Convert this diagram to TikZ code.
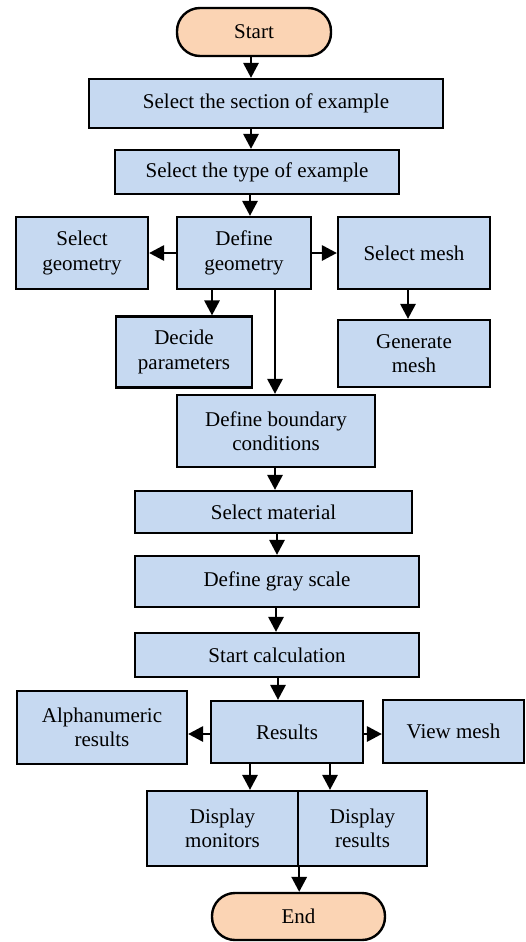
\documentclass[tikz,border=0pt]{standalone}
\usepackage{fontspec}
\setmainfont{Liberation Serif}
\usetikzlibrary{arrows.meta,calc}
\definecolor{boxblue}{HTML}{C6D9F1}
\definecolor{peach}{HTML}{FBD4B4}
\tikzset{
  box/.style={draw=black, line width=2.4pt, fill=boxblue, inner sep=0pt, align=center,
    font=\fontsize{21}{24.5}\selectfont},
  term/.style={box, fill=peach, rounded corners=23pt},
  arr/.style={line width=1.8pt, -{Triangle[width=15.5pt,length=15pt]}},
}
\begin{document}
\begin{tikzpicture}[x=1pt,y=-1pt]
\useasboundingbox (0,0) rectangle (525,942);
\node[term, minimum width=154pt, minimum height=48pt] (start) at (254,32) {Start};
\node[box, minimum width=354pt, minimum height=49pt] (s1) at (266,103.5) {Select the section of example};
\node[box, minimum width=284pt, minimum height=44pt] (s2) at (257,172) {Select the type of example};
\node[box, minimum width=132pt, minimum height=72pt] (sg) at (82,253) {Select\\geometry};
\node[box, minimum width=134pt, minimum height=72pt] (dg) at (244,253) {Define\\geometry};
\node[box, minimum width=152pt, minimum height=72pt] (sm) at (414,253) {Select mesh};
\node[box, minimum width=136pt, minimum height=71pt] (dp) at (184,352) {Decide\\parameters};
\node[box, minimum width=152pt, minimum height=67pt] (gm) at (414,353.5) {Generate\\mesh};
\node[box, minimum width=198pt, minimum height=72pt] (bc) at (276,431) {Define boundary\\conditions};
\node[box, minimum width=277pt, minimum height=42pt] (mat) at (273.5,512) {Select material};
\node[box, minimum width=284pt, minimum height=51pt] (gs) at (277,581.5) {Define gray scale};
\node[box, minimum width=284pt, minimum height=44pt] (sc) at (277,655) {Start calculation};
\node[box, minimum width=152pt, minimum height=62pt] (res) at (287,732) {Results};
\node[box, minimum width=170pt, minimum height=73pt] (an) at (102,727.5) {Alphanumeric\\results};
\node[box, minimum width=141pt, minimum height=63pt] (vm) at (453.5,731.5) {View mesh};
\node[box, minimum width=151pt, minimum height=75pt] (dm) at (222.5,828.5) {Display\\monitors};
\node[box, minimum width=129pt, minimum height=75pt] (dr) at (362.5,828.5) {Display\\results};
\node[term, minimum width=173pt, minimum height=47pt] (end) at (298.5,916.5) {End};
% connectors
\draw[arr] ([xshift=-3pt]start.south) coordinate (a1) -- (a1 |- s1.north);
\draw[arr] ([xshift=-15pt]s1.south) coordinate (a2) -- (a2 |- s2.north);
\draw[arr] ([xshift=-7pt]s2.south) coordinate (a3) -- (a3 |- dg.north);
\draw[arr] (dg.west) -- (sg.east);
\draw[arr] (dg.east) -- (sm.west);
\draw[arr] ([xshift=-32pt]dg.south) coordinate (a4) -- (a4 |- dp.north);
\draw[arr] ([xshift=31pt]dg.south) coordinate (a5) -- (a5 |- bc.north);
\draw[arr] ([xshift=-6pt]sm.south) coordinate (a6) -- (a6 |- gm.north);
\draw[arr] ([xshift=-1pt]bc.south) coordinate (a7) -- (a7 |- mat.north);
\draw[arr] ([xshift=3.5pt]mat.south) coordinate (a8) -- (a8 |- gs.north);
\draw[arr] ([xshift=-1pt]gs.south) coordinate (a9) -- (a9 |- sc.north);
\draw[arr] ([xshift=1pt]sc.south) coordinate (a10) -- (a10 |- res.north);
\draw[arr] ([yshift=-2pt]res.west) coordinate (a11) -- (a11 -| an.east);
\draw[arr] ([yshift=-2pt]res.east) coordinate (a12) -- (a12 -| vm.west);
\draw[arr] ([xshift=-37pt]res.south) coordinate (a13) -- (a13 |- dm.north);
\draw[arr] ([xshift=43pt]res.south) coordinate (a14) -- (a14 |- dr.north);
\draw[arr] (dm.south east) coordinate (a15) -- (a15 |- end.north);
\end{tikzpicture}
\end{document}
